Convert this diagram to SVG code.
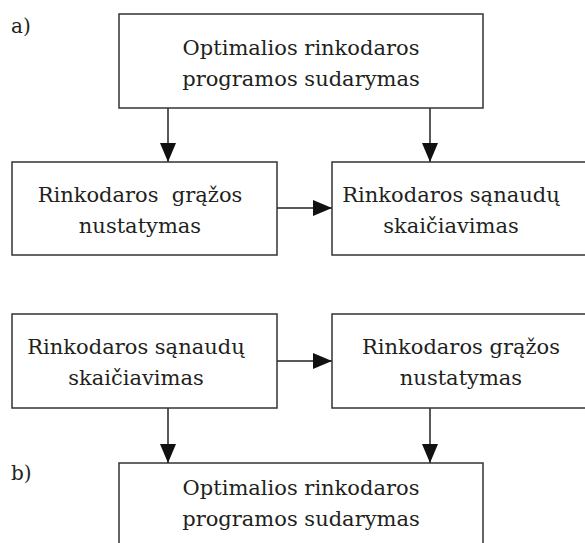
<svg xmlns="http://www.w3.org/2000/svg" width="585" height="543" viewBox="0 0 585 543">
<defs>
<style>
.box{fill:#fff;stroke:#333;stroke-width:1.5}
.t{font-family:"DejaVu Serif",serif;font-size:21px;fill:#231f20;text-anchor:middle;white-space:pre}
.lbl{font-family:"DejaVu Serif",serif;font-size:20px;fill:#231f20}
.c{stroke:#222;stroke-width:1.5;fill:none;marker-end:url(#ah)}
</style>
<marker id="ah" markerUnits="userSpaceOnUse" markerWidth="19" markerHeight="16" refX="19" refY="8" orient="auto">
<path d="M0,0 L19,8 L0,16 Z" fill="#111"/>
</marker>
</defs>
<rect width="585" height="543" fill="#fff"/>
<text class="lbl" x="11" y="33">a)</text>
<text class="lbl" x="11" y="480">b)</text>
<g id="connectors">
<line class="c" x1="168" y1="108" x2="168" y2="162"/>
<line class="c" x1="430" y1="108" x2="430" y2="162"/>
<line class="c" x1="277" y1="208" x2="332" y2="208"/>
<line class="c" x1="277" y1="361" x2="332" y2="361"/>
<line class="c" x1="168" y1="408" x2="168" y2="463"/>
<line class="c" x1="430" y1="408" x2="430" y2="463"/>
</g>
<g id="a_top">
<rect class="box" x="119" y="14" width="364" height="94"/>
<text class="t" x="301" y="55">Optimalios rinkodaros</text>
<text class="t" x="301" y="86">programos sudarymas</text>
</g>
<g id="a_left">
<rect class="box" x="12" y="162" width="265" height="93"/>
<text class="t" x="140" y="202">Rinkodaros  grąžos</text>
<text class="t" x="140" y="233">nustatymas</text>
</g>
<g id="a_right">
<rect class="box" x="332" y="162" width="262" height="93"/>
<text class="t" x="451" y="202">Rinkodaros sąnaudų</text>
<text class="t" x="451" y="233">skaičiavimas</text>
</g>
<g id="b_left">
<rect class="box" x="12" y="314" width="265" height="94"/>
<text class="t" x="136" y="354">Rinkodaros sąnaudų</text>
<text class="t" x="136" y="385">skaičiavimas</text>
</g>
<g id="b_right">
<rect class="box" x="332" y="314" width="262" height="94"/>
<text class="t" x="461" y="354">Rinkodaros grąžos</text>
<text class="t" x="461" y="385">nustatymas</text>
</g>
<g id="b_bottom">
<rect class="box" x="119" y="463" width="364" height="100"/>
<text class="t" x="301" y="495">Optimalios rinkodaros</text>
<text class="t" x="301" y="526">programos sudarymas</text>
</g>
</svg>
